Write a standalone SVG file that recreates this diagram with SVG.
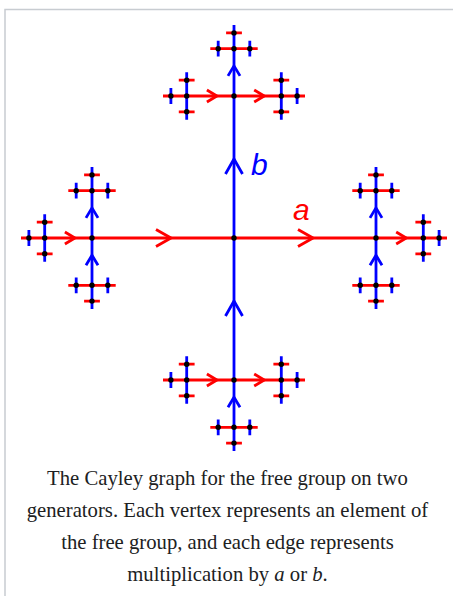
<svg xmlns="http://www.w3.org/2000/svg" width="453" height="596" viewBox="0 0 453 596">
<style>
.r{fill:none;stroke:#ff0000;stroke-width:2.8;stroke-linejoin:round}
.b{fill:none;stroke:#0000ff;stroke-width:2.8;stroke-linejoin:round}
.d{fill:#000}
.lbl{font-family:"Liberation Sans",Arial,sans-serif;font-style:italic;font-size:30px}
.cap{font-family:"Liberation Serif","Times New Roman",serif;font-size:20.7px;fill:#202122;text-anchor:middle}
</style>
<defs>
<path id="ahR" d="M-15,-8.5 L0,0 L-15,8.5"/>
<path id="ahU" d="M-8.5,15 L0,0 L8.5,15"/>
<path id="asR" d="M-10,-6 L0,0 L-10,6"/>
<path id="asU" d="M-6,10 L0,0 L6,10"/>
<g id="clL">
<path class="r" d="M-23.7,0H0M-7.9,-15.8H7.9M-7.9,15.8H7.9"/>
<path class="b" d="M0,-23.7V23.7M-15.8,-7.9V7.9"/>
<g class="d"><circle r="2.7"/><circle cx="-15.8" r="2.7"/><circle cy="-15.8" r="2.7"/><circle cy="15.8" r="2.7"/></g>
</g>
<g id="clR">
<path class="r" d="M0,0H23.7M-7.9,-15.8H7.9M-7.9,15.8H7.9"/>
<path class="b" d="M0,-23.7V23.7M15.8,-7.9V7.9"/>
<g class="d"><circle r="2.7"/><circle cx="15.8" r="2.7"/><circle cy="-15.8" r="2.7"/><circle cy="15.8" r="2.7"/></g>
</g>
<g id="clU">
<path class="r" d="M-23.7,0H23.7M-7.9,-15.8H7.9"/>
<path class="b" d="M0,-23.7V0M-15.8,-7.9V7.9M15.8,-7.9V7.9"/>
<g class="d"><circle r="2.7"/><circle cx="-15.8" r="2.7"/><circle cx="15.8" r="2.7"/><circle cy="-15.8" r="2.7"/></g>
</g>
<g id="clD">
<path class="r" d="M-23.7,0H23.7M-7.9,15.8H7.9"/>
<path class="b" d="M0,0V23.7M-15.8,-7.9V7.9M15.8,-7.9V7.9"/>
<g class="d"><circle r="2.7"/><circle cx="-15.8" r="2.7"/><circle cx="15.8" r="2.7"/><circle cy="15.8" r="2.7"/></g>
</g>
</defs>
<rect width="453" height="596" fill="#fff"/>
<path d="M5,596V9.5H453" fill="none" stroke="#c8ccd1" stroke-width="1.5"/>

<g id="connectors">
<path class="r" d="M44.7,238H423.3M186.7,96H281.3M186.7,380H281.3"/>
<path class="b" d="M234,48.7V427.3M92,190.7V285.3M376,190.7V285.3"/>
<g class="r">
<use href="#ahR" x="171" y="238"/>
<use href="#ahR" x="313" y="238"/>
<use href="#asR" x="216.9" y="96"/>
<use href="#asR" x="264.2" y="96"/>
<use href="#asR" x="216.9" y="380"/>
<use href="#asR" x="264.2" y="380"/>
<use href="#asR" x="74.9" y="238"/>
<use href="#asR" x="406.2" y="238"/>
</g>
<g class="b">
<use href="#ahU" x="234" y="159"/>
<use href="#ahU" x="234" y="301"/>
<use href="#asU" x="234" y="65.9"/>
<use href="#asU" x="234" y="397.2"/>
<use href="#asU" x="92" y="207.9"/>
<use href="#asU" x="92" y="255.2"/>
<use href="#asU" x="376" y="207.9"/>
<use href="#asU" x="376" y="255.2"/>
</g>
</g>

<g id="node-e" class="d"><circle cx="234" cy="238" r="2.7"/></g>
<g id="node-a" class="d"><circle cx="376" cy="238" r="2.7"/></g>
<g id="node-a-inv" class="d"><circle cx="92" cy="238" r="2.7"/></g>
<g id="node-b" class="d"><circle cx="234" cy="96" r="2.7"/></g>
<g id="node-b-inv" class="d"><circle cx="234" cy="380" r="2.7"/></g>

<g id="node-b-ainv"><use href="#clL" x="186.7" y="96"/></g>
<g id="node-b-a"><use href="#clR" x="281.3" y="96"/></g>
<g id="node-bb"><use href="#clU" x="234" y="48.7"/></g>
<g id="node-binv-ainv"><use href="#clL" x="186.7" y="380"/></g>
<g id="node-binv-a"><use href="#clR" x="281.3" y="380"/></g>
<g id="node-binv-binv"><use href="#clD" x="234" y="427.3"/></g>
<g id="node-ainv-ainv"><use href="#clL" x="44.7" y="238"/></g>
<g id="node-ainv-b"><use href="#clU" x="92" y="190.7"/></g>
<g id="node-ainv-binv"><use href="#clD" x="92" y="285.3"/></g>
<g id="node-aa"><use href="#clR" x="423.3" y="238"/></g>
<g id="node-a-b"><use href="#clU" x="376" y="190.7"/></g>
<g id="node-a-binv"><use href="#clD" x="376" y="285.3"/></g>

<g id="labels">
<text class="lbl" x="251" y="175" fill="#0000ff">b</text>
<text class="lbl" x="293" y="220" fill="#ff0000">a</text>
</g>

<g id="caption">
<text class="cap" x="227.5" y="485">The Cayley graph for the free group on two</text>
<text class="cap" x="227.5" y="517">generators. Each vertex represents an element of</text>
<text class="cap" x="227.5" y="549">the free group, and each edge represents</text>
<text class="cap" x="227.5" y="581">multiplication by <tspan font-style="italic">a</tspan> or <tspan font-style="italic">b</tspan>.</text>
</g>
</svg>
